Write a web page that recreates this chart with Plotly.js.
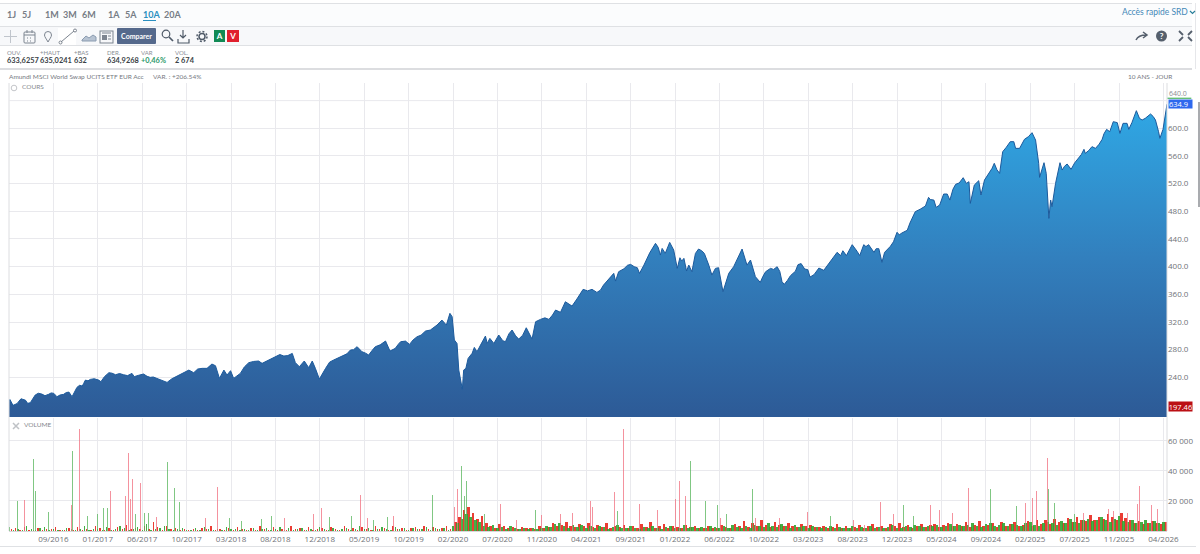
<!DOCTYPE html>
<html lang="fr"><head><meta charset="utf-8">
<script src="https://cdn.plot.ly/plotly-3.0.1.min.js"></script>
<style>
html,body{margin:0;padding:0;background:#fff;width:1200px;height:554px;overflow:hidden;font-family:Lato,"Open Sans",sans-serif}
#chart{position:absolute;left:0;top:0;width:1200px;height:554px}
.t{position:absolute;white-space:nowrap;line-height:1}
.r{position:absolute;left:0;width:1192px}
svg.i{position:absolute;overflow:visible}
.rng{top:10px;font-size:9px;font-weight:700;color:#777d86}
.lb{top:50px;font-size:6px;color:#8a8f96}
.vl{top:57px;font-size:7.400px;font-weight:700;color:#3a3f46}
</style></head><body>
<div id="chart"></div>
<div class="r" style="top:3px;height:1px;background:#dfe1e4"></div>
<div class="r" style="top:4px;height:22px;background:#fbfcfd"></div>
<div class="r" style="top:26px;height:1px;background:#dfe1e4"></div>
<div class="r" style="top:27px;height:18px;background:#f7f8fa"></div>
<div class="r" style="top:45px;height:1px;background:#dfe1e4"></div>
<div class="r" style="top:68px;height:2px;background:#dcdde0"></div>
<div style="position:absolute;left:1195px;top:3px;width:1px;height:66px;background:#e6e7ea"></div>
<div style="position:absolute;left:1198px;top:102px;width:2px;height:105px;background:#a9abaf"></div>
<div class="r" style="top:546px;height:1px;width:1196px;background:#dfe1e4"></div>

<div class="t rng" style="left:7px">1J</div><div class="t rng" style="left:22px">5J</div>
<div class="t rng" style="left:45px">1M</div><div class="t rng" style="left:63px">3M</div><div class="t rng" style="left:82px">6M</div>
<div class="t rng" style="left:108px">1A</div><div class="t rng" style="left:125px">5A</div>
<div class="t rng" style="left:143px;color:#2a8fc0">10A</div><div class="t rng" style="left:164px">20A</div>
<div style="position:absolute;left:143px;top:20px;width:13px;height:1px;background:#2a8fc0"></div>
<div class="t" style="left:1122px;top:8px;font-size:8.500px;color:#4488b8">Accès rapide SRD</div>
<svg class="i" style="left:1189px;top:10px" width="7" height="5"><path d="M1 1l2.500 2.500L6 1" fill="none" stroke="#2a7f9a" stroke-width="1.200"/></svg>

<svg class="i" style="left:5px;top:29px" width="240" height="16" fill="none" stroke="#7d8590" stroke-width="1">
<path d="M5.500 1v13M-1 7.500h13" stroke="#c0c5cc"/>
<rect x="19" y="3" width="11" height="11" rx="1"/><path d="M19 6h11M22 1v3M27 1v3M22 9h1M25 9h1M22 12h1M25 12h1"/>
<path d="M39.500 6a3.500 3.500 0 1 1 7 0c0 2-2 4-3.500 7c-1.500-3-3.500-5-3.500-7z"/>
<rect x="53" y="-1" width="18" height="17" fill="#fff" stroke="none"/><path d="M56 13L69 2"/><circle cx="55.500" cy="13.500" r="1.500"/><circle cx="70" cy="1.500" r="1.500"/>
<path d="M77 11l4-4 3 2 4-3 3 2v4H77z" fill="#b7c3d2" stroke="#8a9bb0"/>
<rect x="95" y="2" width="13" height="12"/><rect x="97" y="6" width="5" height="5" fill="#7d8590" stroke="none"/><path d="M97 4h9M103 7h3M103 10h3"/>
<circle cx="161" cy="5" r="3.800" stroke="#4f5a68" stroke-width="1.200"/><path d="M164 8l4 4" stroke="#4f5a68" stroke-width="1.700"/>
<path d="M178 1v8M175 6l3 3 3-3M173 10v4h11v-4" stroke="#4f5a68" stroke-width="1.200"/>
<circle cx="197" cy="7.500" r="3" stroke="#4f5a68" stroke-width="1.500"/><circle cx="197" cy="7.500" r="5" stroke="#4f5a68" stroke-width="1.500" stroke-dasharray="2 1.900"/>
</svg>
<div class="t" style="left:117px;top:28px;width:39px;height:16px;line-height:16px;background:#55698c;border-radius:1px;color:#fff;font-size:7px;font-weight:700;text-align:center">Comparer</div>
<div class="t" style="left:214px;top:30px;width:11px;height:12px;line-height:12px;background:#118a55;color:#fff;font-size:8px;font-weight:700;text-align:center">A</div>
<div class="t" style="left:227px;top:30px;width:12px;height:12px;line-height:12px;background:#e0202e;color:#fff;font-size:8px;font-weight:700;text-align:center">V</div>
<svg class="i" style="left:1135px;top:29px" width="60" height="16" fill="none" stroke="#555f6c">
<path d="M1 11c2-4 5-5 10-5M8 3l4 3-4 3" stroke-width="1.500"/>
<circle cx="26.500" cy="7" r="5.500" fill="#555f6c" stroke="none"/>
<path d="M44 2l4 4M44 12l4-4M57 2l-4 4M57 12l-4-4" stroke-width="1.800"/>
</svg>
<div class="t" style="left:1159px;top:32px;width:5px;text-align:center;font-size:8px;font-weight:700;color:#fff">?</div>

<div class="t lb" style="left:7px">OUV.</div><div class="t vl" style="left:7px">633,6257</div>
<div class="t lb" style="left:40px">+HAUT</div><div class="t vl" style="left:40px">635,0241</div>
<div class="t lb" style="left:74px">+BAS</div><div class="t vl" style="left:74px">632</div>
<div class="t lb" style="left:107px">DER.</div><div class="t vl" style="left:107px">634,9268</div>
<div class="t lb" style="left:141px">VAR</div><div class="t vl" style="left:141px;color:#2c9a6a">+0,46%</div>
<div class="t lb" style="left:175px">VOL.</div><div class="t vl" style="left:175px">2 674</div>

<div class="t" style="left:9px;top:74px;font-size:6.500px;color:#75797f">Amundi MSCI World Swap UCITS ETF EUR Acc</div>
<div class="t" style="left:153px;top:74px;font-size:6.500px;color:#75797f">VAR. : +206.54%</div>
<div class="t" style="left:1128px;top:74px;font-size:6.500px;color:#75797f">10 ANS - JOUR</div>
<svg class="i" style="left:10px;top:84px" width="8" height="8"><circle cx="4" cy="4" r="2.800" fill="none" stroke="#c4c6ca"/></svg>
<div class="t" style="left:22px;top:84px;font-size:6.500px;color:#85888e">COURS</div>
<div style="position:absolute;left:10px;top:419px;width:43px;height:11px;background:#fff"></div>
<svg class="i" style="left:12px;top:422px" width="8" height="8"><path d="M1 1l6 6M7 1L1 7" stroke="#bfc2c6" stroke-width="1.500"/></svg>
<div class="t" style="left:24px;top:422px;font-size:6.500px;color:#85888e">VOLUME</div>

<script>
// Price: session number (trading days since the start) and closing value
const priceSessions = [0,2,9,18,27,37,42,48,59,74,89,101,108,123,135,142,153,165,172,183,202,207,225,240,258,277,282,303,318,333,356,378,405,416,435,446,457,465,474,484,491,499,506,521,540,562,570,581,600,619,638,645,654,665,675,683,690,699,713,731,754,769,784,795,810,825,848,858,870,882,893,902,919,938,949,964,975,985,993,998,1003,1009,1013,1018,1021,1024,1029,1034,1043,1048,1054,1062,1073,1077,1083,1092,1103,1118,1133,1148,1165,1178,1186,1197,1216,1231,1242,1253,1268,1279,1293,1313,1324,1339,1362,1366,1373,1400,1415,1420,1430,1456,1467,1471,1478,1488,1497,1505,1511,1520,1526,1531,1538,1546,1553,1566,1576,1583,1591,1598,1608,1621,1632,1644,1651,1662,1670,1681,1692,1704,1715,1730,1741,1746,1760,1771,1777,1784,1792,1799,1804,1813,1824,1835,1850,1865,1873,1878,1886,1899,1910,1916,1925,1936,1948,1953,1959,1966,1972,1985,2000,2011,2023,2029,2041,2064,2071,2083,2088,2096,2105,2113,2119,2132,2149,2156,2162,2165,2174,2184,2189,2197,2214,2219,2231,2238,2246,2255,2263,2267,2276,2287,2304,2312,2319,2321,2331,2336,2342,2346,2349,2357,2367,2372,2383,2392,2409,2421,2424,2439,2447,2462,2472,2479,2487,2496,2502,2509,2518,2522,2529,2539,2546,2559,2571,2582,2589,2592,2599,2608];
const priceValues = [205,208,199.5,202,209,207,202.4,203.3,214.4,215.8,215.4,216.8,212,215.4,218.7,212,225.5,227.4,236,237,236,233.7,246.7,243.8,243.8,245.7,241,244.8,240,238.5,232.7,241.9,250.5,246.7,253,253,259.2,256.8,238.5,250.5,243.3,249.6,238.5,245.7,261.2,263.6,260.2,264,269.8,270.8,274.6,261.2,255.4,263.6,254,263.6,253,237.5,253,265,272.2,279.5,284.3,277,272.2,284.3,292.5,278,281.9,291.5,292.4,287.6,298.7,306.9,308.4,315.6,322.8,315.6,332.5,327.7,294,289,250.5,236,222.6,250.5,253,267.4,274.7,283.3,277,286.7,299.7,289,296.3,289,301.2,291.5,308.4,295.3,311.7,295.3,320.4,323.8,323.8,337.3,334,349.3,343,353.2,367.2,367.2,362.8,373.4,390.3,379.2,392.7,403.3,398.5,390.3,402.3,433.7,416.8,426.4,419.2,435.1,424,397.5,412.9,412,393.7,402.3,392.7,419.2,425.5,419.2,402.3,387.9,397.5,398.5,363.8,390.3,399.9,416.8,425.5,402.3,409.6,385.5,377.3,392.7,397.5,399.9,378.2,374.4,387,393.3,403,404.4,396.6,395.7,385,388.4,398,394.7,407.7,420.7,416,423,416,431.8,422.2,416,431.8,431.8,420.7,426,426,406.3,420.7,429.4,449.7,448.7,452.6,463,479.5,487.7,500.2,496.3,485.7,489.1,505,505,496.3,519,528.6,520.4,522.8,491.5,518,524.3,503.6,525.3,542.1,549.4,534.9,566.2,572.5,580.7,580.7,571,571,584.1,593.7,583,549.4,529.1,550.3,534.9,469.8,496.3,486.7,520.4,550.3,539.7,548.4,540.7,556.6,569.6,563.8,573.5,571,584.1,598.5,595.1,609.6,608.2,592.7,607.2,607.2,598.5,608.2,625.5,614.4,614.4,620.7,612,595.1,585.5,598.5,634.9];
// Price: smaller turns read between the sessions above
const detailSessions = [66,81,95,115,129,148,159,168,178,192,215,232,249,267,292,311,325,345,367,391,425,530,551,590,610,628,722,742,761,776,803,818,836,877,910,928,1112,1126,1141,1157,1207,1224,1261,1286,1303,1332,1350,1385,1393,1408,1443,1462,1515,1560,1638,1698,1722,1736,1753,1843,1858,1930,1992,2005,2052,2075,2126,2140,2205,2225,2296,2377,2400,2415,2432,2455,2466,2534,2552,2565,2577];
const detailValues = [217,213.5,217.5,214.5,218,219,228.5,231,235,238,241,246,245.5,242.5,243,241.5,240.5,234.5,238,245.5,252,255,263,267,273,271.5,262,268,274,280,275,279,287,288,294,301,293,303,300,301,326,330,346,361,365,366,381,397,402,400,420,428,408,423,408,386,396,393,380,402,415,429,436,446,483,497,512,521,533,540,588,545,550,562,568,577,592,617,612,618,617];

// Volume: tall individual sessions
const spikeUpSessions = [20,56,60,88,143,177,200,213,222,285,306,315,357,372,384,497,523,568,592,722,771,820,853,954,1018,1026,1030,1071,1186,1371,1535,1568,1595,1616,1675,1851,2014,2038,2210,2270,2342,2355,2400];
const spikeUpValues = [20000,48000,26800,12500,53000,9800,11000,15500,15500,11000,12000,12000,45700,28600,19500,8600,6800,8200,9800,9100,9800,7500,9300,23900,43400,23000,33200,11400,14300,13200,46600,20000,17000,11400,28000,9800,17000,9800,28000,16600,28000,18400,11000];
const spikeDownSessions = [35,141,159,228,263,270,273,279,297,332,442,469,620,685,703,792,807,867,1003,1011,1108,1144,1200,1242,1268,1309,1315,1364,1383,1419,1460,1502,1511,1524,1602,1681,1735,1799,1901,1927,1963,1991,2075,2096,2126,2162,2289,2306,2314,2338,2421,2477,2488,2518,2542,2547,2572,2586];
const spikeDownValues = [20450,17000,67700,26800,23000,52300,21000,34800,32000,9300,8600,29000,8600,11400,15500,23900,8600,9800,16100,28000,17700,7500,10900,11400,12000,20000,16100,25700,68200,17700,13900,21100,33600,23000,8600,8600,8600,12500,7500,4100,19300,11600,17000,14300,12000,28400,18900,22300,26800,48400,12000,14800,13200,12000,17700,30200,17000,14800];
// Volume: everyday sessions, one reading every ten sessions
const baseUp = [2500,800,1500,900,3000,1200,700,1800,2600,900,1400,800,1000,2200,1100,700,1300,3000,900,1600,1200,800,2500,1000,1400,3200,
2000,900,1300,2400,1000,4500,800,1200,2100,3500,1400,900,1600,2000,1000,800,1700,900,2800,1200,1000,1500,800,2400,1100,1300,
1000,1600,700,2300,900,1400,1800,800,1200,2700,1000,1900,700,1300,2200,900,1500,800,2600,1100,1000,1800,900,1400,2000,1000,
1500,3000,1200,1900,900,1600,2800,1300,1000,2400,1100,1800,900,2000,1500,1200,2600,1000,1700,1300,2100,1000,3500,5000,8000,11000,
9000,7000,6000,3500,2400,4200,1800,2600,1500,3100,1700,1200,2300,1400,2000,1100,1700,3300,2500,4400,5200,3000,2200,3800,2700,4100,
2000,3000,1800,3600,2400,1600,2900,3800,2200,1700,3200,2300,1500,2600,1900,3400,2000,1400,2500,3100,1800,2200,3700,1900,2800,2100,
2400,1700,3300,2600,1900,3100,2200,4000,2700,1800,3500,2300,4200,3000,2400,5200,3300,2600,4600,3000,2100,3900,2800,3400,2200,3000,
2600,1900,2400,3200,2000,2800,1700,2300,3000,2100,2500,1800,3400,2200,2900,2000,2600,3700,2300,2000,3100,2400,4200,3000,2600,3500,
3000,4100,2800,3600,4800,3200,4300,3000,3800,5000,3300,2800,4400,5300,3600,4000,5100,3400,4600,3800,3000,5200,6000,4200,3600,5000,
6300,5200,4300,6800,5500,7800,6200,5000,7000,8200,6400,7400,9000,7600,6000,8000,10000,6800,6000,7200,5200,6000,7400,5600,6800,5000,
5800,7000,6000,5200,6600,5400,7800,6200,7000,5600,8400,6400,7400,9000,7000,8000,6600,9200,7200,8000,6800,7600,8800,7000,7800,6400,7000];
const baseDown = [1200,1800,700,2600,1000,900,2100,700,1500,1100,2400,900,600,1700,800,2800,1000,1300,700,3500,1800,1000,2000,800,2900,1500,
4000,1100,2200,1300,3000,1500,6000,2400,900,3400,1200,2000,1000,1500,700,1300,900,2000,1100,3200,800,1400,1000,1800,700,2800,
1300,800,2000,1000,3000,1200,700,2400,900,1500,800,3300,1100,1800,1000,2500,700,1600,2100,900,2600,1200,800,3000,1300,2000,
1000,2400,1600,800,3100,1200,2000,900,3500,1400,2300,1000,1700,2800,1100,3600,1500,2500,1300,2000,3000,1500,6000,9000,14000,16000,
12000,8000,10000,5000,3000,2000,4500,3300,2000,2700,1500,2600,1800,2100,1300,3000,1700,2400,5000,3000,3800,6000,3400,2500,4600,3300,
5200,2400,3800,2600,5400,2000,3600,2500,4200,2000,3100,2200,4900,2700,6000,2000,3000,4500,2200,3500,2400,1800,4000,2500,3000,1900,
1700,3100,2300,2000,4200,2800,1900,4600,3200,6500,2400,5200,3000,7000,3800,2500,6200,4000,3000,5000,3300,2400,4500,3000,4100,2400,
2900,3600,2000,2700,4400,2300,3300,2000,2800,3900,2200,3000,4500,2400,3500,2200,4800,3000,5600,2700,3800,2300,3000,4600,2900,4000,
4500,2800,3900,5600,3000,4600,3500,6000,2900,4200,6400,3000,3700,5000,2800,6000,3600,4500,5800,3000,4200,6600,3500,7000,4800,7200,
4800,8000,6000,5200,8800,6200,9600,7400,6400,10500,7400,9000,8000,11000,9500,7000,12000,8400,7000,5600,6800,4600,5400,6600,5000,4400,
6000,5000,6800,4600,5400,7000,5000,6400,8600,5800,7000,9200,6000,7800,5200,9000,7000,6200,10000,7200,6400,10500,7000,9000,6600,8000,5500];
const tickLabels = ['09/2016','01/2017','06/2017','10/2017','03/2018','08/2018','12/2018','05/2019','10/2019','02/2020','07/2020','11/2020','04/2021','09/2021','01/2022','06/2022','10/2022','03/2023','08/2023','12/2023','05/2024','09/2024','02/2025','07/2025','11/2025','04/2026'];
const tickSessions = tickLabels.map((_, i) => (i + 1) * 100);
const priceTicks = [240,280,320,360,400,440,480,520,560,600];
const volumeTicks = [20000,40000,60000];
const volumeTickLabels = ['20 000','40 000','60 000'];

const merged = priceSessions.map((s, i) => [s, priceValues[i]])
  .concat(detailSessions.map((s, i) => [s, detailValues[i]]))
  .sort((a, b) => a[0] - b[0]);
const grid = '#e9e9ed', tickFont = {family:'"Open Sans",sans-serif', size:8, color:'#6f7277'};
const baseWidth = i => i < 100 ? 3 : 6;
const traces = [
 {type:'scatter', mode:'lines', x:merged.map(p => p[0]), y:merged.map(p => p[1]), xaxis:'x', yaxis:'y', fill:'tozeroy',
  line:{color:'#1c5a9c', width:1},
  fillgradient:{type:'vertical', start:182, stop:640, colorscale:[[0,'#2d5a96'],[0.5,'#327fbd'],[1,'#2fa9e6']]}, hoverinfo:'skip'},
 {type:'bar', x:baseDown.map((_, i) => i * 10 + 5), y:baseDown, xaxis:'x2', yaxis:'y2', width:baseDown.map((_, i) => baseWidth(i)), marker:{color:'rgba(232,40,30,0.9)', line:{width:0}}, hoverinfo:'skip'},
 {type:'bar', x:baseUp.map((_, i) => i * 10), y:baseUp, xaxis:'x2', yaxis:'y2', width:baseUp.map((_, i) => baseWidth(i)), marker:{color:'rgba(50,165,50,0.9)', line:{width:0}}, hoverinfo:'skip'},
 {type:'bar', x:spikeUpSessions, y:spikeUpValues, xaxis:'x2', yaxis:'y2', width:2.2, marker:{color:'rgba(85,180,90,0.75)', line:{width:0}}, hoverinfo:'skip'},
 {type:'bar', x:spikeDownSessions, y:spikeDownValues, xaxis:'x2', yaxis:'y2', width:2.2, marker:{color:'rgba(240,110,125,0.75)', line:{width:0}}, hoverinfo:'skip'}
];
const labelFont = {family:'"Open Sans",sans-serif', size:7.500, color:'#fff'};
const layout = {
 width:1200, height:554, showlegend:false, barmode:'overlay', bargap:0,
 paper_bgcolor:'rgba(0,0,0,0)', plot_bgcolor:'#fff', font:tickFont,
 margin:{l:9, r:33, t:83, b:23, pad:0},
 xaxis:{domain:[0,1], range:[0,2608], tickmode:'array', tickvals:tickSessions, showticklabels:false, anchor:'y', showgrid:true, gridcolor:grid, gridwidth:1, zeroline:false, ticks:'', showline:false},
 yaxis:{domain:[0.2545,1], range:[182.7,665.5], side:'right', tickmode:'array', tickvals:priceTicks, tickformat:'.1f', anchor:'x', showgrid:true, gridcolor:grid, zeroline:false, ticks:'', showline:false, tickfont:tickFont},
 xaxis2:{domain:[0,1], range:[0,2608], tickmode:'array', tickvals:tickSessions, ticktext:tickLabels, anchor:'y2', showgrid:true, gridcolor:grid, zeroline:false, ticks:'', tickangle:0, tickfont:tickFont, showline:true, linecolor:'#d8d9dc', linewidth:1},
 yaxis2:{domain:[0,0.2522], range:[0,75300], side:'right', tickmode:'array', tickvals:volumeTicks, ticktext:volumeTickLabels, anchor:'x2', showgrid:true, gridcolor:grid, zeroline:false, ticks:'', tickfont:tickFont},
 shapes:[
  {type:'line', xref:'paper', yref:'paper', x0:0, x1:0, y0:0, y1:1, line:{color:'#dcdde0', width:1}},
  {type:'line', xref:'paper', yref:'paper', x0:1, x1:1, y0:0, y1:1, line:{color:'#dcdde0', width:1}},
  {type:'line', xref:'paper', yref:'y', x0:0, x1:1, y0:640, y1:640, line:{color:grid, width:1}},
  {type:'line', xref:'paper', yref:'y', x0:1.0005, x1:1.021, y0:643.5, y1:643.5, line:{color:'#28a745', width:1}}
 ],
 annotations:[
  {xref:'paper', yref:'y', x:1.0012, y:640, yshift:7, xanchor:'left', yanchor:'middle', text:'640.0', showarrow:false, font:{family:'"Open Sans",sans-serif', size:7, color:'#8a8d92'}, borderpad:0},
  {xref:'paper', yref:'y', x:1.0008, y:634.9, xanchor:'left', yanchor:'middle', text:'634.9', showarrow:false, bgcolor:'#2f69ee', font:labelFont, width:23, height:8, borderpad:0, align:'left'},
  {xref:'paper', yref:'y', x:1.0008, y:197.46, xanchor:'left', yanchor:'middle', text:'197.46', showarrow:false, bgcolor:'#bb0f14', font:labelFont, width:23, height:9, borderpad:0, align:'center'}
 ]
};
Plotly.newPlot('chart', traces, layout, {displayModeBar:false, staticPlot:true});
</script>
</body></html>
